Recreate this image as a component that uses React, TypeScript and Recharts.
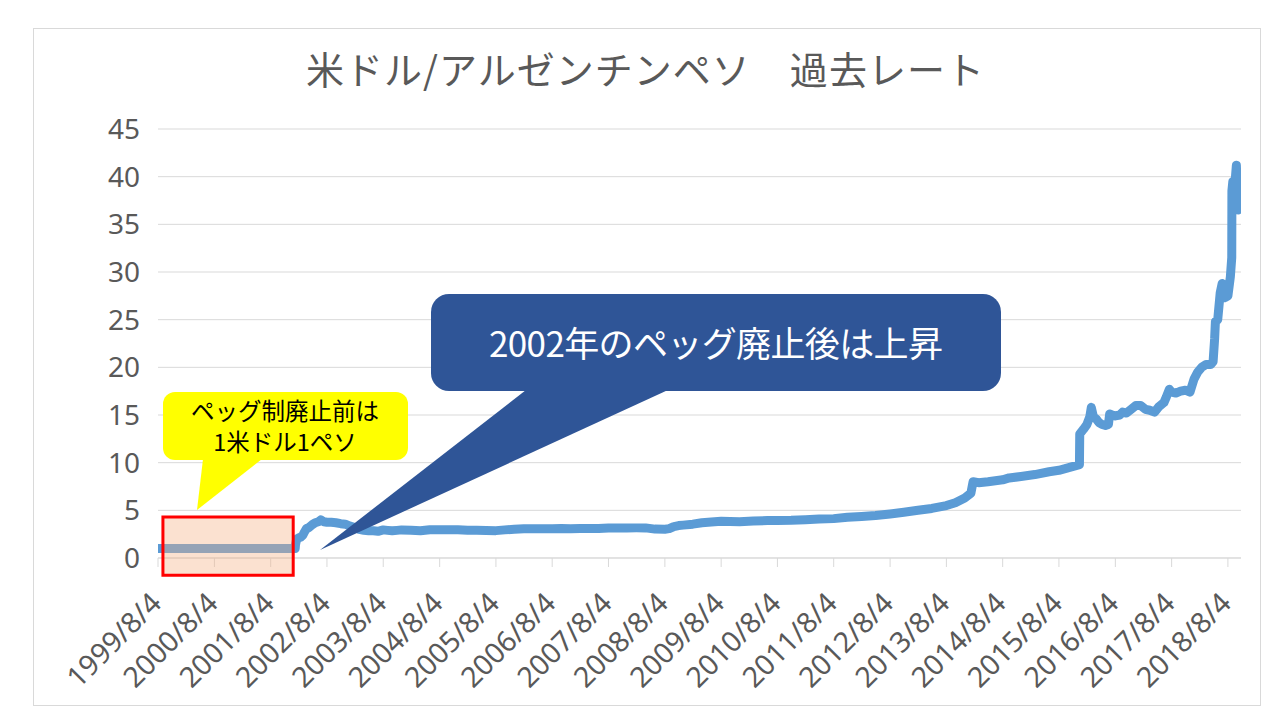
import React from 'react';
import { LineChart, Line, XAxis, YAxis, CartesianGrid, ReferenceArea } from 'recharts';

// ---- data ----
const rateDates: string[] = [
  '1999/8/4', '2000/2/4', '2000/8/4', '2001/2/4', '2001/8/4', '2002/1/10',
  '2002/1/12', '2002/1/20', '2002/2/1', '2002/2/15', '2002/3/1', '2002/3/10', '2002/3/25',
  '2002/4/10', '2002/5/1', '2002/5/20', '2002/6/10', '2002/6/25', '2002/7/15', '2002/8/4',
  '2002/9/1', '2002/10/1', '2002/11/1', '2002/12/1', '2003/1/1', '2003/2/1', '2003/3/1',
  '2003/4/1', '2003/5/1', '2003/6/1', '2003/7/1', '2003/8/4', '2003/9/1', '2003/10/1',
  '2003/11/1', '2003/12/1', '2004/2/1', '2004/4/1', '2004/6/1', '2004/8/4', '2004/10/1',
  '2004/12/1', '2005/2/1', '2005/4/1', '2005/6/1', '2005/8/4', '2005/10/1', '2005/12/1',
  '2006/2/1', '2006/4/1', '2006/6/1', '2006/8/4', '2006/10/1', '2006/12/1', '2007/2/1',
  '2007/4/1', '2007/6/1', '2007/8/4', '2007/10/1', '2007/12/1', '2008/2/1', '2008/4/1',
  '2008/6/1', '2008/8/4', '2008/9/1', '2008/10/1', '2008/11/1', '2008/12/1', '2009/2/1',
  '2009/4/1', '2009/6/1', '2009/8/4', '2009/10/1', '2009/12/1', '2010/3/1', '2010/6/1',
  '2010/8/4', '2010/11/1', '2011/2/1', '2011/5/1', '2011/8/4', '2011/11/1', '2012/2/1',
  '2012/5/1', '2012/8/4', '2012/11/1', '2013/2/1', '2013/5/1', '2013/8/4', '2013/10/1',
  '2013/12/1', '2014/1/10', '2014/1/24', '2014/3/1', '2014/5/1', '2014/8/4', '2014/9/15',
  '2014/12/1', '2015/3/1', '2015/6/1', '2015/8/4', '2015/10/1', '2015/12/15', '2015/12/17',
  '2016/1/10', '2016/2/1', '2016/2/20', '2016/3/1', '2016/3/15', '2016/4/1', '2016/4/20',
  '2016/5/10', '2016/6/1', '2016/6/20', '2016/6/28', '2016/7/15', '2016/8/4', '2016/9/1',
  '2016/9/20', '2016/10/15', '2016/11/15', '2016/12/15', '2017/1/15', '2017/2/15', '2017/3/15',
  '2017/4/15', '2017/5/15', '2017/6/15', '2017/7/1', '2017/7/20', '2017/8/4', '2017/9/1',
  '2017/10/1', '2017/11/1', '2017/12/1', '2017/12/28', '2018/1/20', '2018/2/15', '2018/3/15',
  '2018/4/15', '2018/4/30', '2018/5/10', '2018/5/15', '2018/5/30', '2018/6/15', '2018/6/28',
  '2018/7/15', '2018/8/4', '2018/8/20', '2018/8/29', '2018/8/30', '2018/9/5', '2018/9/15',
  '2018/9/28', '2018/10/5', '2018/10/10',
];

const rateValues: number[] = [
  1.0, 1.0, 1.0, 1.0, 1.0, 1.0,
  1.4, 2.0, 2.1, 2.2, 2.4, 2.7, 3.1,
  3.2, 3.5, 3.7, 3.8, 4.0, 3.8, 3.75,
  3.75, 3.7, 3.6, 3.55, 3.35, 3.2, 3.0,
  2.9, 2.85, 2.85, 2.8, 2.95, 2.9, 2.85,
  2.9, 2.95, 2.92, 2.85, 2.96, 2.97, 2.97,
  2.97, 2.92, 2.9, 2.88, 2.87, 2.95, 3.02,
  3.07, 3.06, 3.07, 3.08, 3.1, 3.06, 3.1,
  3.09, 3.09, 3.15, 3.15, 3.15, 3.16, 3.16,
  3.03, 3.02, 3.08, 3.3, 3.4, 3.45, 3.55,
  3.7, 3.78, 3.85, 3.83, 3.81, 3.87, 3.93,
  3.94, 3.96, 4.02, 4.08, 4.13, 4.28, 4.35,
  4.45, 4.62, 4.8, 5.0, 5.2, 5.5, 5.8,
  6.3, 6.8, 8.0, 7.9, 8.0, 8.2, 8.4,
  8.55, 8.75, 9.05, 9.2, 9.45, 9.8, 13.0,
  13.5, 14.0, 14.8, 15.8, 14.8, 14.6, 14.2,
  14.0, 13.9, 14.0, 15.1, 15.0, 14.9, 15.0,
  15.3, 15.2, 15.6, 16.0, 16.0, 15.6, 15.5,
  15.3, 15.9, 16.3, 16.9, 17.7, 17.4, 17.3,
  17.5, 17.6, 17.4, 18.8, 19.5, 20.0, 20.3,
  20.3, 20.6, 23.0, 24.8, 25.0, 27.8, 28.8,
  27.3, 27.5, 29.5, 31.5, 38.5, 39.5, 38.5,
  41.2, 38.0, 36.5,
];

const xTickLabels: string[] = [
  '1999/8/4', '2000/8/4', '2001/8/4', '2002/8/4', '2003/8/4', '2004/8/4', '2005/8/4',
  '2006/8/4', '2007/8/4', '2008/8/4', '2009/8/4', '2010/8/4', '2011/8/4', '2012/8/4',
  '2013/8/4', '2014/8/4', '2015/8/4', '2016/8/4', '2017/8/4', '2018/8/4',
];
const yTicks: number[] = [0, 5, 10, 15, 20, 25, 30, 35, 40, 45];

const titleText = '米ドル/アルゼンチンペソ　過去レート';
const pegNoteLines: string[] = ['ペッグ制廃止前は', '1米ドル1ペソ'];
const afterNoteText = '2002年のペッグ廃止後は上昇';

// peg-period highlight box (data coordinates)
const pegBoxStart = '1999/9/5';
const pegBoxEnd = '2001/12/28';
const pegBoxLow = -1.8;
const pegBoxHigh = 4.3;

const axisStart = '1999/8/4';
const axisEnd = '2018/10/28';

// ---- helpers ----
const toTime = (s: string): number => {
  const [y, m, d] = s.split('/').map(Number);
  return Date.UTC(y, m - 1, d);
};

const chartData = rateDates.map((d, i) => ({ t: toTime(d), v: rateValues[i] }));
const xTicks = xTickLabels.map(toTime);
const labelOf = new Map<number, string>(xTickLabels.map((l) => [toTime(l), l]));

const TEXT = '#595959';
const GRID = '#D9D9D9';
const LATIN = "'Noto Sans', 'DejaVu Sans', sans-serif";
const CJK = "'Noto Sans CJK JP', 'Noto Sans', sans-serif";

const XTick = (props: any) => {
  const { x, y, payload } = props;
  const px = x + 5;
  const py = y + 38;
  return (
    <text
      x={px}
      y={py}
      textAnchor="end"
      transform={`rotate(-45, ${px}, ${py})`}
      fill={TEXT}
      fontSize={28.5}
      fontFamily={LATIN}
    >
      {labelOf.get(payload.value) ?? ''}
    </text>
  );
};

export default function App() {
  return (
    <div style={{ position: 'absolute', left: 0, top: 0, width: 1280, height: 720, background: '#fff' }}>
      <div
        style={{
          position: 'absolute',
          left: 33,
          top: 28,
          width: 1226,
          height: 676,
          border: `1px solid ${GRID}`,
        }}
      />
      <div style={{ position: 'absolute', left: 0, top: 0 }}>
        <LineChart
          width={1280}
          height={720}
          data={chartData}
          margin={{ top: 129, right: 39, left: 0, bottom: 12 }}
        >
          <CartesianGrid vertical={false} stroke={GRID} strokeWidth={1} />
          <XAxis
            dataKey="t"
            type="number"
            domain={[toTime(axisStart), toTime(axisEnd)]}
            ticks={xTicks}
            interval={0}
            height={150}
            axisLine={{ stroke: GRID }}
            tickLine={{ stroke: GRID }}
            tickSize={9}
            tickMargin={0}
            tick={<XTick />}
            allowDataOverflow
          />
          <YAxis
            domain={[0, 45]}
            ticks={yTicks}
            width={158}
            axisLine={false}
            tickLine={false}
            tickSize={0}
            tickMargin={18}
            interval={0}
            tick={{ fill: TEXT, fontSize: 28, fontFamily: LATIN }}
          />
          <Line
            type="linear"
            dataKey="v"
            stroke="#5B9BD5"
            strokeWidth={9}
            strokeLinejoin="round"
            strokeLinecap="round"
            dot={false}
            activeDot={false}
            isAnimationActive={false}
          />
          <ReferenceArea
            x1={toTime(pegBoxStart)}
            x2={toTime(pegBoxEnd)}
            y1={pegBoxLow}
            y2={pegBoxHigh}
            ifOverflow="visible"
            fill="#F4B183"
            fillOpacity={0.38}
            stroke="#FF0000"
            strokeWidth={3}
            zIndex={1000}
          />
        </LineChart>
      </div>
      <svg
        width={1280}
        height={720}
        style={{ position: 'absolute', left: 0, top: 0, pointerEvents: 'none' }}
      >
        <text x={306} y={84} fontSize={38} fill={TEXT} fontFamily={CJK} textLength={678} lengthAdjust="spacing">
          {titleText}
        </text>

        {/* yellow callout */}
        <rect x={163} y={392} width={245} height={68} rx={12} fill="#FFFF00" />
        <polygon points="203,459 262,459 197,510" fill="#FFFF00" />
        <text x={285} y={420} fontSize={23.5} textAnchor="middle" fill="#000" fontFamily={CJK}>
          {pegNoteLines[0]}
        </text>
        <text x={285} y={451} fontSize={23.5} textAnchor="middle" fill="#000" fontFamily={CJK}>
          {pegNoteLines[1]}
        </text>

        {/* blue callout */}
        <rect x={431} y={294} width={570} height={97} rx={18} fill="#2F5597" />
        <polygon points="526,390 668,390 320,550" fill="#2F5597" />
        <text x={489} y={357} fontSize={35} fill="#FFFFFF" fontFamily={CJK} textLength={454} lengthAdjust="spacing">
          {afterNoteText}
        </text>
      </svg>
    </div>
  );
}
